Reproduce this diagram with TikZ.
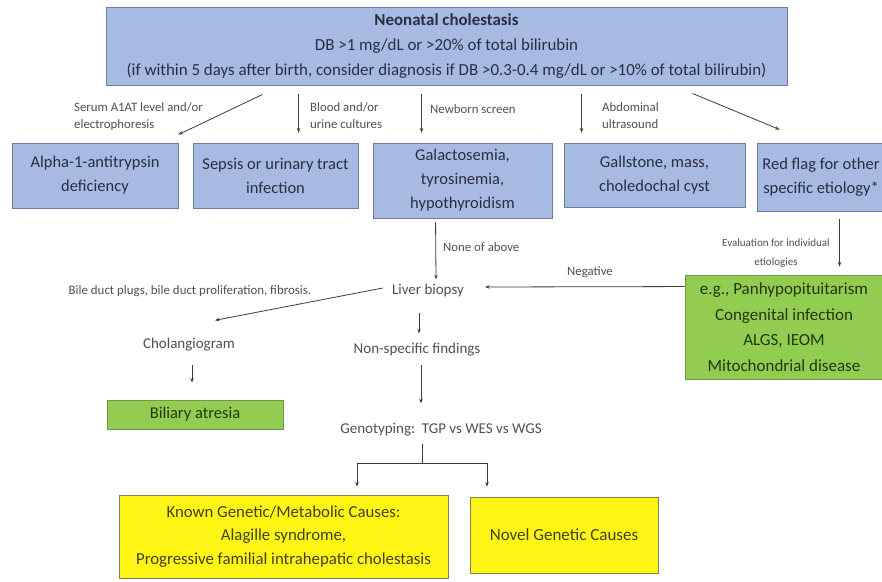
\documentclass[tikz,border=0pt]{standalone}
\usepackage{fontspec}
\setmainfont{Carlito}
\usetikzlibrary{arrows.meta,calc}
\definecolor{bluefill}{RGB}{166,186,226}
\definecolor{blueline}{RGB}{110,125,160}
\definecolor{greenfill}{RGB}{146,204,80}
\definecolor{greenline}{RGB}{110,150,70}
\definecolor{yellowfill}{RGB}{255,245,20}
\definecolor{yellowline}{RGB}{130,130,90}
\definecolor{boxtext}{RGB}{40,46,68}
\definecolor{greentext}{RGB}{35,55,18}
\definecolor{yellowtext}{RGB}{65,65,35}
\definecolor{labeltext}{RGB}{80,80,80}
\definecolor{linecol}{RGB}{60,60,60}
\tikzset{
  boxbase/.style={draw, line width=0.9pt, inner sep=0pt, align=center, font=\fontsize{16.5}{24}\selectfont},
  bluebox/.style={boxbase, fill=bluefill, draw=blueline, text=boxtext},
  greenbox/.style={boxbase, fill=greenfill, draw=greenline, text=greentext},
  yellowbox/.style={boxbase, fill=yellowfill, draw=yellowline, text=yellowtext},
  plain/.style={inner sep=1pt, text=labeltext, font=\fontsize{15}{17}\selectfont},
  lbl/.style={inner sep=0pt, text=labeltext, align=left, font=\fontsize{12.8}{17}\selectfont},
  arr/.style={draw=linecol, line width=0.8pt, -{Stealth[length=4.5pt,width=3.5pt]}},
  ln/.style={draw=linecol, line width=0.8pt},
}
\begin{document}
\begin{tikzpicture}[x=1pt,y=-1pt]
\useasboundingbox (0,0) rectangle (882,581);
\fill[white] (0,0) rectangle (882,581);

% boxes
\node[bluebox, minimum width=681pt, minimum height=78pt, font=\fontsize{16.9}{25}\selectfont] (top) at (446.5,46)
  {\textbf{Neonatal cholestasis}\\DB >1 mg/dL or >20\% of total bilirubin\\(if within 5 days after birth, consider diagnosis if DB >0.3-0.4 mg/dL or >10\% of total bilirubin)};
\node[bluebox, minimum width=166pt, minimum height=65pt] (alpha) at (95,175.5) {Alpha-1-antitrypsin\\deficiency};
\node[bluebox, minimum width=165pt, minimum height=65pt] (sepsis) at (275.5,175.5) {Sepsis or urinary tract\\infection};
\node[bluebox, minimum width=179pt, minimum height=75pt] (galac) at (462.5,180.5) {Galactosemia,\\tyrosinemia,\\hypothyroidism};
\node[bluebox, minimum width=181pt, minimum height=64pt] (gall) at (654.5,175) {Gallstone, mass,\\choledochal cyst};
\node[bluebox, minimum width=128pt, minimum height=68pt] (red) at (821,177) {Red flag for other\\specific etiology*};
\node[greenbox, minimum width=198pt, minimum height=104pt, font=\fontsize{17}{25.5}\selectfont] (eg) at (784,327) {e.g., Panhypopituitarism\\Congenital infection\\ALGS, IEOM\\Mitochondrial disease};
\node[greenbox, minimum width=176pt, minimum height=29pt] (biliary) at (195,414.5) {Biliary atresia};
\node[yellowbox, minimum width=329pt, minimum height=83pt, font=\fontsize{16.8}{23.5}\selectfont] (known) at (283.5,536.5) {Known Genetic/Metabolic Causes:\\Alagille syndrome,\\Progressive familial intrahepatic cholestasis};
\node[yellowbox, minimum width=188pt, minimum height=76pt, font=\fontsize{17}{24}\selectfont] (novel) at (564,535) {Novel Genetic Causes};

% plain text nodes
\node[plain] (liver) at (428,290) {Liver biopsy};
\node[plain, font=\fontsize{12.9}{15}\selectfont] (bile) at (190,291) {Bile duct plugs, bile duct proliferation, fibrosis.};
\node[plain] (chol) at (189,345) {Cholangiogram};
\node[plain] (nonspec) at (417,350) {Non-specific findings};
\node[plain] (geno) at (441,430) {Genotyping:\ \ TGP vs WES vs WGS};

% edge labels
\node[lbl, anchor=north west] (l1) at (74,102) {Serum A1AT level and/or\\electrophoresis};
\node[lbl, anchor=north west] (l2) at (310,102) {Blood and/or\\urine cultures};
\node[lbl, anchor=north west] (l3) at (430,104) {Newborn screen};
\node[lbl, anchor=north west] (l4) at (602,102) {Abdominal\\ultrasound};
\node[lbl, anchor=west] (l5) at (443,247) {None of above};
\node[lbl, align=center, font=\fontsize{11}{19}\selectfont] (l6) at (776,253) {Evaluation for individual\\etiologies};
\node[lbl] (l7) at (590,272) {Negative};

% connectors
\draw[arr] ($(top.south west)+(157,9)$) -- ($(alpha.north east)+(0,-8)$);
\draw[arr] ($(top.south west)+(193,9)$) -- ($(sepsis.north west)+(106,-10)$);
\draw[arr] ($(top.south west)+(316,9)$) -- ($(galac.north west)+(49,-10)$);
\draw[arr] ($(top.south west)+(476,9)$) -- ($(gall.north west)+(18,-10)$);
\draw[arr] ($(top.south west)+(587,8)$) -- ($(red.north west)+(23,-13)$);
\draw[arr] ($(galac.south west)+(63,4)$) -- ($(liver.north)+(8,-3)$);
\draw[arr] ($(red.south west)+(83,8)$) -- ($(eg.north west)+(155,-8)$);
\draw[arr] ($(eg.north west)+(0,12)$) -- ($(liver.east)+(20,-3)$);
\draw[arr] ($(liver.west)+(-8,-2)$) -- ($(chol.north)+(26,-17)$);
\draw[arr] ($(chol.south)+(3,12)$) -- ($(biliary.north)+(-3,-17)$);
\draw[arr] ($(liver.south)+(-9,15)$) -- ($(nonspec.north)+(2,-9)$);
\draw[arr] ($(nonspec.south)+(4,7)$) -- ($(geno.north)+(-20,-19)$);
\coordinate (split) at ($(geno.south)+(-19,26)$);
\draw[ln] ($(geno.south)+(-19,6)$) -- (split);
\draw[arr] (split) -| ($(known.north)+(73.5,-8)$);
\draw[arr] (split) -| ($(novel.north)+(-77,-10)$);
\end{tikzpicture}
\end{document}
